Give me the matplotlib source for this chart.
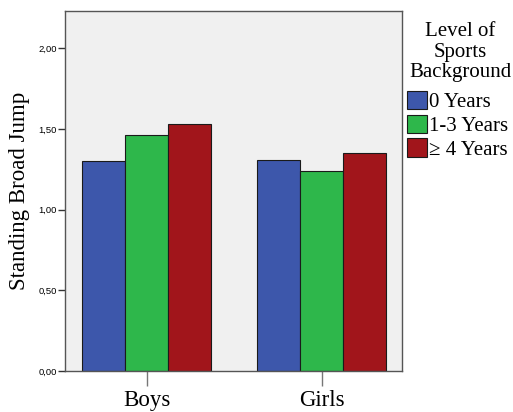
import numpy as np
import matplotlib.pyplot as plt
from matplotlib.patches import Patch

groups = ['Boys', 'Girls']
levels = ['0 Years', '1-3 Years', '\u2265 4 Years']
legend_title = ['Level of', 'Sports', 'Background']
values_0 = [1.30, 1.31]
values_13 = [1.46, 1.24]
values_4 = [1.53, 1.35]
yticks = [0.0, 0.5, 1.0, 1.5, 2.0]
colors = ['#3d57ab', '#2eb74b', '#a1151b']

serif = 'Liberation Serif'

W, H = 513, 412
fig = plt.figure(figsize=(5.13, 4.12), dpi=100)
ax = fig.add_axes([65 / W, 41 / H, 337 / W, 360 / H])
ax.set_facecolor('#f0f0f0')

x = np.arange(len(groups))
width = 0.246
for i, vals in enumerate([values_0, values_13, values_4]):
    ax.bar(x + (i - 1) * width, vals, width, color=colors[i],
           edgecolor='#1a1a1a', linewidth=0.8, zorder=2)

ax.set_xlim(-0.466, 1.46)
ax.set_ylim(0, 2.23)
ax.set_yticks(yticks)
ax.set_yticklabels(['{:.2f}'.format(v).replace('.', ',') for v in yticks],
                   fontfamily='Liberation Sans', fontsize=6.8)
ax.set_xticks(x)
ax.set_xticklabels(groups, fontfamily=serif, fontsize=16.5)
ax.tick_params(axis='y', length=5, width=1, color='#333333', pad=1)
ax.tick_params(axis='x', length=11, width=1, color='#777777', pad=3)
for s in ax.spines.values():
    s.set_color('#555555')
    s.set_linewidth(1)
ax.set_ylabel('Standing Broad Jump', fontfamily=serif, fontsize=16.5, labelpad=6)

# legend title, one line at a time
for k, line in enumerate(legend_title):
    fig.text(460 / W, 1 - (36.5 + 20 * k) / H, line, ha='center', va='baseline',
             fontfamily=serif, fontsize=15)

handles = [Patch(facecolor=c, edgecolor='#1a1a1a', linewidth=0.8) for c in colors]
leg = fig.legend(handles, levels, loc='upper left', bbox_to_anchor=(407 / W, 1 - 91 / H),
                 frameon=False, prop={'family': serif, 'size': 15},
                 handlelength=0.96, handleheight=0.96, handletextpad=0.1,
                 labelspacing=0.12, borderaxespad=0, borderpad=0)

fig.savefig('out.png', dpi=100)
